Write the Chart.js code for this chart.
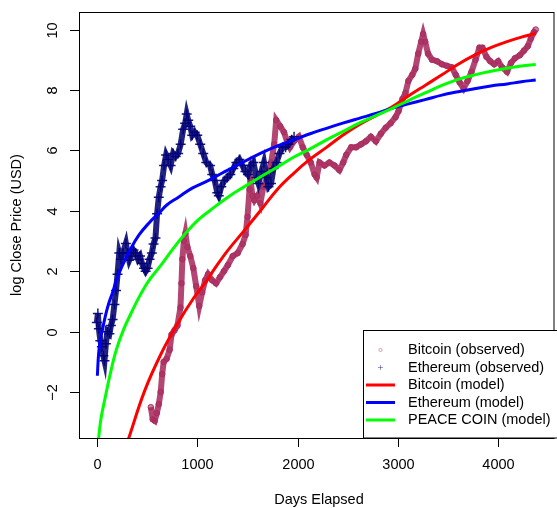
<!DOCTYPE html>
<html>
<head>
<meta charset="utf-8">
<script src="https://cdn.jsdelivr.net/npm/chart.js@4.4.1/dist/chart.umd.min.js"></script>
<style>
  html, body { margin: 0; padding: 0; background: #fff; overflow: hidden; }
  #wrap { width: 560px; height: 508px; }
</style>
</head>
<body>
<div id="wrap"><canvas id="logChart" width="560" height="508"></canvas></div>
<script>
// observed series (log close price vs days elapsed)
const btcDays = [538, 557, 577, 597, 617, 636, 651, 666, 695, 725, 744, 774, 803, 833, 843, 852, 867, 882, 902, 931, 961, 990, 1020, 1049, 1079, 1108, 1148, 1187, 1226, 1266, 1305, 1354, 1403, 1452, 1482, 1501, 1521, 1531, 1550, 1570, 1600, 1629, 1659, 1698, 1737, 1767, 1787, 1826, 1865, 1895, 1924, 1963, 2013, 2052, 2091, 2131, 2170, 2190, 2219, 2268, 2317, 2367, 2416, 2455, 2485, 2534, 2583, 2632, 2681, 2730, 2780, 2829, 2878, 2927, 2976, 3006, 3045, 3075, 3104, 3143, 3173, 3202, 3232, 3251, 3271, 3300, 3340, 3389, 3438, 3487, 3536, 3576, 3615, 3654, 3694, 3733, 3773, 3812, 3842, 3881, 3920, 3959, 3999, 4038, 4087, 4127, 4166, 4215, 4255, 4294, 4324, 4353, 4373];
const btcLogClose = [-2.5, -2.9, -2.95, -2.7, -2.4, -2.0, -1.4, -1.0, -0.9, -0.6, -0.1, 0.05, 0.2, 0.8, 1.6, 2.4, 3.0, 3.25, 2.8, 2.5, 2.1, 1.5, 0.85, 1.3, 1.7, 1.9, 1.7, 1.6, 1.8, 2.0, 2.2, 2.5, 2.6, 2.9, 3.2, 3.8, 4.7, 5.0, 4.5, 4.35, 4.5, 4.25, 4.8, 5.1, 5.6, 6.2, 7.0, 6.8, 6.6, 6.3, 6.1, 6.3, 6.45, 6.1, 5.85, 5.6, 5.2, 5.1, 5.6, 5.5, 5.6, 5.5, 5.35, 5.6, 5.85, 6.1, 6.1, 6.2, 6.3, 6.45, 6.3, 6.55, 6.75, 6.9, 7.1, 7.3, 7.7, 7.9, 8.3, 8.5, 8.7, 9.2, 9.6, 9.85, 9.6, 9.2, 9.0, 8.95, 8.85, 8.8, 8.75, 8.5, 8.25, 8.05, 8.3, 8.6, 9.0, 9.4, 9.4, 9.1, 8.95, 8.85, 8.95, 8.75, 8.6, 8.9, 9.05, 9.15, 9.3, 9.45, 9.7, 9.9, 10.0];

const ethDays = [0, 10, 20, 35, 50, 65, 76, 90, 105, 125, 140, 157, 175, 191, 206, 223, 240, 260, 289, 305, 322, 340, 365, 387, 410, 430, 449, 470, 486, 505, 525, 548, 565, 584, 600, 617, 635, 650, 670, 690, 710, 735, 760, 785, 810, 835, 860, 880, 895, 910, 930, 950, 975, 1000, 1030, 1060, 1090, 1128, 1150, 1175, 1200, 1215, 1240, 1270, 1300, 1330, 1360, 1390, 1420, 1450, 1480, 1505, 1530, 1560, 1590, 1610, 1640, 1665, 1690, 1710, 1735, 1760, 1790, 1820, 1850, 1880, 1910, 1940, 1965];
const ethLogClose = [0.3, 0.6, 0.1, -0.3, -0.5, -0.8, -0.96, -0.4, 0.0, -0.07, 0.2, 0.4, 0.9, 1.36, 1.9, 2.6, 2.4, 2.6, 2.92, 2.6, 2.36, 2.5, 2.7, 2.6, 2.4, 2.5, 2.26, 2.1, 2.0, 2.1, 2.4, 2.6, 2.9, 3.1, 3.9, 4.45, 4.8, 5.0, 5.5, 5.85, 5.7, 5.5, 5.9, 5.8, 5.9, 6.2, 6.7, 6.9, 7.2, 7.0, 6.8, 6.5, 6.6, 6.5, 6.2, 5.9, 5.6, 5.5, 5.2, 5.0, 4.6, 4.5, 4.8, 5.0, 5.1, 5.2, 5.4, 5.6, 5.7, 5.5, 5.3, 5.2, 5.5, 5.6, 5.1, 4.9, 5.3, 5.6, 5.1, 4.8, 4.9, 5.4, 5.6, 5.9, 6.1, 6.1, 6.2, 6.35, 6.45];

// fitted model curves
const btcModelDays = [315, 476, 639, 803, 968, 1098, 1177, 1305, 1472, 1629, 1796, 1964, 2121, 2288, 2450, 2613, 2780, 2947, 3104, 3270, 3438, 3600, 3763, 3925, 4088, 4230, 4373];
const btcModelLog = [-3.55, -1.96, -0.74, 0.26, 1.13, 1.7, 2.1, 2.69, 3.36, 4.0, 4.7, 5.25, 5.7, 6.1, 6.5, 6.85, 7.15, 7.45, 7.8, 8.15, 8.5, 8.85, 9.15, 9.4, 9.6, 9.75, 9.87];

const ethModelDays = [5, 17, 35, 55, 80, 115, 157, 200, 256, 330, 420, 520, 617, 700, 813, 950, 1108, 1250, 1393, 1629, 1800, 1964, 2125, 2288, 2450, 2613, 2780, 2947, 3104, 3270, 3438, 3600, 3763, 3925, 4088, 4230, 4373];
const ethModelLog = [-1.46, -0.74, -0.25, 0.05, 0.45, 0.9, 1.3, 1.75, 2.2, 2.7, 3.2, 3.6, 3.92, 4.2, 4.45, 4.75, 5.0, 5.25, 5.5, 5.9, 6.15, 6.35, 6.55, 6.73, 6.9, 7.06, 7.22, 7.4, 7.54, 7.68, 7.83, 7.94, 8.04, 8.13, 8.2, 8.27, 8.33];

const peaceModelDays = [15, 40, 83, 130, 191, 270, 354, 430, 518, 639, 747, 869, 1010, 1131, 1305, 1470, 1629, 1800, 1964, 2125, 2288, 2450, 2613, 2780, 2947, 3104, 3270, 3438, 3600, 3763, 3925, 4088, 4230, 4373];
const peaceModelLog = [-3.6, -2.9, -2.18, -1.45, -0.63, 0.1, 0.7, 1.2, 1.69, 2.2, 2.69, 3.2, 3.7, 4.02, 4.45, 4.8, 5.12, 5.45, 5.78, 6.05, 6.35, 6.62, 6.9, 7.15, 7.4, 7.65, 7.9, 8.15, 8.35, 8.5, 8.62, 8.72, 8.79, 8.84];

const xTicks = [0, 1000, 2000, 3000, 4000];
const xTickLabels = ["0", "1000", "2000", "3000", "4000"];
const yTicks = [-2, 0, 2, 4, 6, 8, 10];
const yTickLabels = ["\u22122", "0", "2", "4", "6", "8", "10"];

const legendLabels = ["Bitcoin (observed)", "Ethereum (observed)", "Bitcoin (model)", "Ethereum (model)", "PEACE COIN (model)"];

const FONT = '14.5px "Liberation Sans", Arial, Helvetica, sans-serif';

function pts(xs, ys) {
  return xs.map((d, i) => ({ x: d, y: ys[i] }));
}

// R-like box, ticks, titles and legend
const rLook = {
  id: "rLook",
  afterDraw(chart) {
    const { ctx, chartArea: a, scales: { x, y } } = chart;
    ctx.save();
    ctx.strokeStyle = "#000";
    ctx.lineWidth = 1;
    ctx.strokeRect(a.left + 0.5, a.top + 0.5, a.right - a.left, a.bottom - a.top);

    ctx.font = FONT;
    ctx.fillStyle = "#000";
    ctx.textAlign = "center";
    ctx.textBaseline = "middle";

    xTicks.forEach((v, i) => {
      const px = Math.round(x.getPixelForValue(v)) + 0.5;
      ctx.beginPath();
      ctx.moveTo(px, a.bottom);
      ctx.lineTo(px, a.bottom + 9);
      ctx.stroke();
      ctx.fillText(xTickLabels[i], px, 465);
    });
    yTicks.forEach((v, i) => {
      const py = Math.round(y.getPixelForValue(v)) + 0.5;
      ctx.beginPath();
      ctx.moveTo(a.left, py);
      ctx.lineTo(a.left - 9, py);
      ctx.stroke();
      ctx.save();
      ctx.translate(53, py);
      ctx.rotate(-Math.PI / 2);
      ctx.fillText(yTickLabels[i], 0, 0);
      ctx.restore();
    });

    ctx.fillText("Days Elapsed", 319, 500);
    ctx.save();
    ctx.translate(17, (a.top + a.bottom) / 2);
    ctx.rotate(-Math.PI / 2);
    ctx.fillText("log Close Price (USD)", 0, 0);
    ctx.restore();

    // legend
    const lx = 363.5, ly = 330.5;
    ctx.fillStyle = "#fff";
    ctx.fillRect(lx, ly, 300, a.bottom - ly);
    ctx.strokeStyle = "#000";
    ctx.strokeRect(lx, ly, 300, a.bottom - ly);

    const rows = [350, 367.5, 385, 402.5, 420];
    const lineCols = [null, null, "#ff0000", "#0000ff", "#00ff00"];
    rows.forEach((ry, i) => {
      if (i === 0) {
        ctx.strokeStyle = "rgba(176,48,96,0.45)";
        ctx.lineWidth = 1;
        ctx.beginPath();
        ctx.arc(380.5, ry, 1.6, 0, Math.PI * 2);
        ctx.stroke();
      } else if (i === 1) {
        ctx.strokeStyle = "rgba(0,0,128,0.4)";
        ctx.lineWidth = 1;
        ctx.beginPath();
        ctx.moveTo(378, ry); ctx.lineTo(383, ry);
        ctx.moveTo(380.5, ry - 2.5); ctx.lineTo(380.5, ry + 2.5);
        ctx.stroke();
      } else {
        ctx.strokeStyle = lineCols[i];
        ctx.lineWidth = 3;
        ctx.beginPath();
        ctx.moveTo(366, ry);
        ctx.lineTo(395, ry);
        ctx.stroke();
      }
      ctx.fillStyle = "#000";
      ctx.textAlign = "left";
      ctx.fillText(legendLabels[i], 408, ry);
    });
    ctx.restore();
  }
};

new Chart(document.getElementById("logChart"), {
  type: "scatter",
  data: {
    datasets: [
      {
        label: "PEACE COIN (model)",
        data: pts(peaceModelDays, peaceModelLog),
        showLine: true, borderColor: "#00ff00", borderWidth: 3,
        pointRadius: 0, tension: 0.4, order: 1
      },
      {
        label: "Ethereum (model)",
        data: pts(ethModelDays, ethModelLog),
        showLine: true, borderColor: "#0000ff", borderWidth: 3,
        pointRadius: 0, tension: 0.4, order: 2
      },
      {
        label: "Bitcoin (model)",
        data: pts(btcModelDays, btcModelLog),
        showLine: true, borderColor: "#ff0000", borderWidth: 3,
        pointRadius: 0, tension: 0.4, order: 3
      },
      {
        label: "Ethereum (observed)",
        data: pts(ethDays, ethLogClose),
        showLine: true, borderColor: "rgba(10,10,115,0.9)", borderWidth: 6,
        pointStyle: "cross", pointRadius: 5, pointBorderWidth: 1.5,
        pointBorderColor: "rgba(0,0,120,0.9)", order: 4
      },
      {
        label: "Bitcoin (observed)",
        data: pts(btcDays, btcLogClose),
        showLine: true, borderColor: "rgba(168,44,94,0.88)", borderWidth: 6,
        pointStyle: "circle", pointRadius: 2.8, pointBorderWidth: 1,
        pointBackgroundColor: "rgba(168,44,94,0.6)",
        pointBorderColor: "rgba(168,44,94,0.9)", order: 5
      }
    ]
  },
  options: {
    responsive: false,
    animation: false,
    layout: { padding: { left: 79, top: 12, right: 1, bottom: 70 } },
    scales: {
      x: { type: "linear", min: -178, max: 4550, display: false },
      y: { type: "linear", min: -3.52, max: 10.58, display: false }
    },
    plugins: {
      legend: { display: false },
      tooltip: { enabled: false }
    }
  },
  plugins: [rLook]
});
</script>
</body>
</html>
